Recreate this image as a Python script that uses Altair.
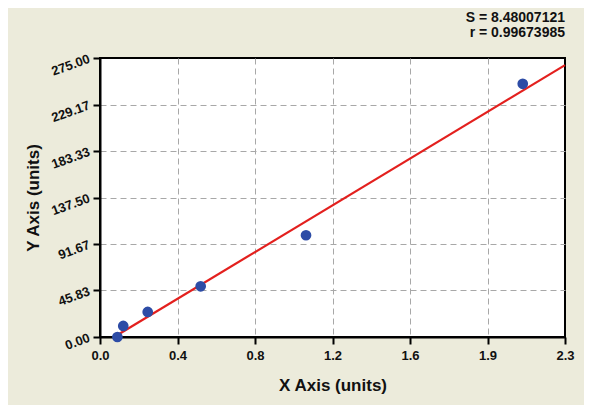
import altair as alt
import pandas as pd

# ---- data ----
x_vals = [0.086, 0.115, 0.236, 0.498, 1.019, 2.091]
y_vals = [0.0, 10.9, 24.7, 50.0, 100.3, 249.6]
fit_x = [0.07, 2.3]
fit_y = [0.0, 268.0]
x_tick_labels = ["0.0", "0.4", "0.8", "1.2", "1.6", "1.9", "2.3"]
y_tick_labels = ["0.00", "45.83", "91.67", "137.50", "183.33", "229.17", "275.00"]
stats_lines = ["S = 8.48007121", "r = 0.99673985"]
x_max = 2.3
y_max = 275.0

FONT = "Liberation Sans"
BG = "#ECEBDB"

x_ticks = [x_max * i / 24 for i in range(25)]
y_ticks = [y_max * i / 24 for i in range(25)]

major_test = "round(datum.index*24) % 4 == 0"
hide_grid_test = "round(datum.index*24) % 4 != 0 || round(datum.index*24) == 0 || round(datum.index*24) == 24"


def lab_expr(labels):
    arr = "[" + ",".join("'" + s + "'" for s in labels) + "]"
    return f"{major_test} ? {arr}[round(datum.index*6)] : ''"


common_axis = dict(
    domainColor="black",
    domainWidth=2,
    tickColor="black",
    tickWidth=2,
    tickSize={"condition": {"test": major_test, "value": 7}, "value": 4},
    gridOpacity={"condition": {"test": hide_grid_test, "value": 0}, "value": 1},
    gridColor="#a8a8a8",
    gridDash=[6, 4],
    gridWidth=1,
    labelFont=FONT,
    labelFontWeight="bold",
    labelFontSize=13,
    labelColor="#111111",
    titleFont=FONT,
    titleFontWeight="bold",
    titleFontSize=17,
    titleColor="#111111",
)

x_axis = alt.Axis(
    values=x_ticks,
    labelExpr=lab_expr(x_tick_labels),
    labelPadding=5,
    labelFlush=False,
    labelOverlap=False,
    title="X Axis (units)",
    titleX=232.5,
    titleY=48,
    titleBaseline="middle",
    orient="bottom",
    **common_axis,
)

y_axis = alt.Axis(
    values=y_ticks,
    labelExpr=lab_expr(y_tick_labels),
    labelAngle=340,
    labelAlign="right",
    labelBaseline="middle",
    labelPadding=4,
    labelFlush=False,
    labelOverlap=False,
    title="Y Axis (units)",
    titleX=-67,
    titleY=139.5,
    titleAngle=270,
    titleBaseline="middle",
    titleAlign="center",
    orient="left",
    **common_axis,
)

xs = alt.Scale(domain=[0, x_max], nice=False, zero=False)
ys = alt.Scale(domain=[0, y_max], nice=False, zero=False)

pts = pd.DataFrame({"x": x_vals, "y": y_vals})
fit = pd.DataFrame({"x": fit_x, "y": fit_y})

line = alt.Chart(fit).mark_line(color="#e3201e", strokeWidth=2.2).encode(
    x=alt.X("x:Q", scale=xs, axis=x_axis),
    y=alt.Y("y:Q", scale=ys, axis=y_axis),
)

points = alt.Chart(pts).mark_circle(size=115, color="#2d4ca6", opacity=1).encode(
    x=alt.X("x:Q", scale=xs),
    y=alt.Y("y:Q", scale=ys),
)

texts = []
for i, s in enumerate(stats_lines):
    texts.append(
        alt.Chart(pd.DataFrame({"t": [s]}))
        .mark_text(
            align="right",
            baseline="middle",
            font=FONT,
            fontWeight="bold",
            fontSize=14,
            color="#111111",
        )
        .encode(text="t:N", x=alt.value(465), y=alt.value(-40 + 15 * i))
    )

chart = (
    alt.layer(line, points, *texts)
    .properties(
        width=465,
        height=279,
        background=BG,
        padding={"left": 92, "top": 50, "right": 19, "bottom": 68},
        autosize=alt.AutoSizeParams(type="none"),
    )
    .configure_view(fill="white", stroke="black", strokeWidth=2)
)

chart.save("out.html", embed_options={"renderer": "svg", "actions": False})
